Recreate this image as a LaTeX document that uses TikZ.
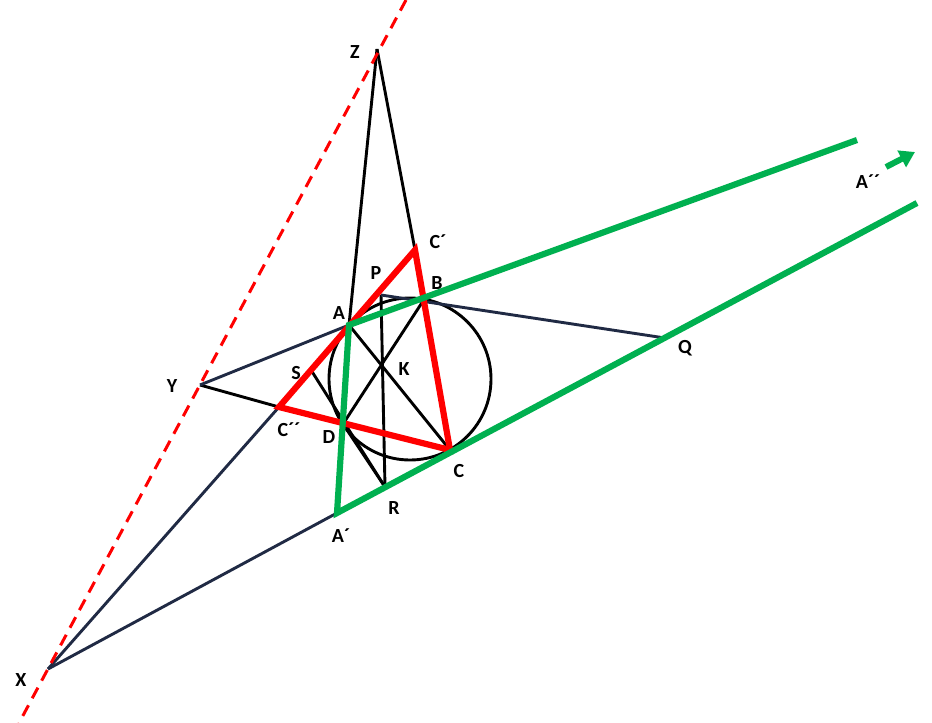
\documentclass[tikz,border=0pt]{standalone}
\usepackage{fontspec}
\setmainfont{Carlito}
\usetikzlibrary{arrows.meta}
\definecolor{navy}{RGB}{32,42,68}
\definecolor{ogreen}{RGB}{0,176,80}
\begin{document}
\begin{tikzpicture}[x=1pt,y=-1pt,
  blk/.style={black,line width=2.9pt},
  nav/.style={navy,line width=2.9pt},
  redl/.style={red,line width=6.2pt,line join=miter},
  grn/.style={ogreen,line width=6.2pt,line join=miter},
  dsh/.style={red,line width=3pt,dash pattern=on 12pt off 8pt},
  lab/.style={font=\fontsize{20}{22}\selectfont\bfseries,inner sep=0pt}]
\useasboundingbox (0,0) rectangle (932,723);
% points
\coordinate (Z) at (377,49);
\coordinate (Y) at (200,385);
\coordinate (X) at (48,669);
\coordinate (Ltop) at (406,0);
\coordinate (Lbot) at (19,723);
\coordinate (A) at (349,325);
\coordinate (B) at (425,298);
\coordinate (C) at (450,450);
\coordinate (D) at (343,424);
\coordinate (Cp) at (415,250);
\coordinate (Cpp) at (279,407);
\coordinate (P) at (381,295);
\coordinate (R) at (385,487);
\coordinate (S) at (311,370);
\coordinate (Q) at (665,338);
\coordinate (Ap) at (337,513);
\coordinate (G1) at (857,140);
\coordinate (G2) at (917,203);
\coordinate (Tt) at (886,167);
\coordinate (Th) at (915,152);
\coordinate (O) at (410,379);
% black lines
\draw[blk] (Z) -- (A);
\draw[blk] (Z) -- (Cp);
\draw[blk] (Y) -- (Cpp);
\draw[blk] (A) -- (C);
\draw[blk] (B) -- (D);
\draw[blk] (P) -- (R);
\draw[blk] (S) -- (R);
\draw[blk] (D) -- (R);
\draw[blk] (O) circle[radius=81];
% navy lines
\draw[nav] (X) -- (Ap);
\draw[nav] (X) -- (Cpp);
\draw[nav] (Y) -- (A);
\draw[nav] (P) -- (Q);
% red triangle
\draw[redl] (Cpp) -- (Cp) -- (C) -- cycle;
% green lines
\draw[grn] (G1) -- (A) -- (Ap) -- (G2);
\draw[ogreen,line width=6pt,-{Triangle[length=15pt,width=18pt]}] (Tt) -- (Th);
% dashed line
\draw[dsh] (Ltop) -- (Lbot);
% labels
\node[lab] (lZ) at (355,52) {Z};
\node[lab] (lCp) at (438,242) {C´};
\node[lab] (lP) at (376,273) {P};
\node[lab] (lB) at (437,283) {B};
\node[lab] (lA) at (339,313) {A};
\node[lab] (lY) at (172,386) {Y};
\node[lab] (lS) at (296,373) {S};
\node[lab] (lK) at (404,369) {K};
\node[lab] (lQ) at (685,348) {Q};
\node[lab] (lCpp) at (289,430) {C´´};
\node[lab] (lD) at (329,437) {D};
\node[lab] (lC) at (459,471) {C};
\node[lab] (lR) at (394,508) {R};
\node[lab] (lAp) at (341,536) {A´};
\node[lab] (lX) at (21,680) {X};
\node[lab] (lApp) at (868,182) {A´´};
\end{tikzpicture}
\end{document}
